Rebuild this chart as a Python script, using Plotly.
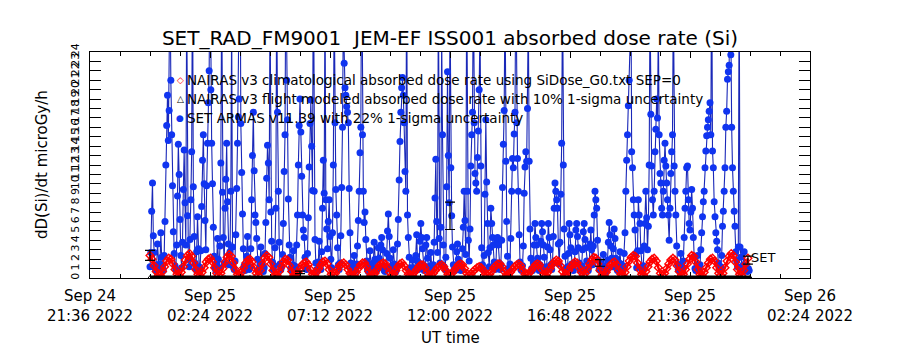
import plotly.graph_objects as go
import pandas as pd

# ---------------- data ----------------
TITLE = "SET_RAD_FM9001  JEM-EF ISS001 absorbed dose rate (Si)"
Y_TITLE = "dD(Si)/dt microGy/h"
X_TITLE = "UT time"

x_tick_times = ["2022-09-24 21:36", "2022-09-25 02:24", "2022-09-25 07:12",
                "2022-09-25 12:00", "2022-09-25 16:48", "2022-09-25 21:36",
                "2022-09-26 02:24"]
x_tick_labels = ["Sep 24<br>21:36 2022", "Sep 25<br>02:24 2022", "Sep 25<br>07:12 2022",
                 "Sep 25<br>12:00 2022", "Sep 25<br>16:48 2022", "Sep 25<br>21:36 2022",
                 "Sep 26<br>02:24 2022"]
y_tick_values = list(range(0, 25))
y_tick_labels = [str(v) for v in y_tick_values]

legend_labels = [
    "NAIRAS v3 climatological absorbed dose rate using SiDose_G0.txt SEP=0",
    "NAIRAS v3 flight modeled absorbed dose rate with 10% 1-sigma uncertainty",
    "SET ARMAS v11.39 with 22% 1-sigma uncertainty",
]

# SET ARMAS: 2-minute samples from 2022-09-25 00:00 (one row per hour)
set_start = "2022-09-25 00:00"
set_step = "2min"
set_armas = [
    1.2, 2.7, 7.1, 10.1, 4.5, 2.7, 1.1, 0.8, 1.4, 3.6, 1.2, 0.9, 1.5, 4.8, 2.2, 1.0, 0.8, 2.4, 6.0, 12.0, 16.2, 19.4, 14.6, 17.8, 32.0, 21.0, 15.2, 9.8, 4.9, 2.6,
    1.3, 0.9, 3.5, 8.7, 14.2, 11.0, 6.2, 2.4, 1.1, 3.8, 9.4, 13.6, 8.0, 3.5, 30.0, 6.6, 2.0, 1.2, 4.1, 8.3, 13.4, 34.0, 9.7, 4.4, 1.6, 0.9, 2.8, 6.5, 3.1, 1.2,
    1.0, 2.9, 7.6, 12.5, 15.2, 10.0, 6.1, 3.0, 9.8, 14.3, 18.6, 22.0, 36.0, 20.0, 14.3, 10.0, 5.4, 2.3, 1.1, 0.8, 1.6, 4.2, 2.0, 1.1, 3.4, 12.2, 30.0, 9.1, 4.3, 1.5,
    7.4, 10.5, 14.3, 8.1, 3.6, 1.4, 2.8, 9.2, 28.0, 3.3, 1.2, 0.9, 1.8, 4.6, 9.5, 14.3, 17.1, 19.0, 38.0, 16.4, 11.2, 6.8, 3.1, 1.3, 0.8, 1.0, 2.3, 4.4, 1.9, 0.9,
    1.2, 3.1, 8.3, 13.0, 17.6, 11.4, 6.7, 5.9, 4.2, 2.0, 0.9, 0.8, 1.5, 3.3, 1.4, 0.9, 0.7, 1.1, 2.6, 5.9, 10.6, 14.1, 12.2, 8.3, 29.0, 7.0, 3.9, 1.7, 0.9, 1.3,
    3.2, 7.4, 31.0, 17.6, 9.2, 3.8, 1.5, 0.9, 1.2, 2.5, 5.8, 11.3, 15.2, 33.0, 21.0, 16.8, 8.4, 3.5, 2.2, 1.0, 0.8, 1.4, 2.9, 1.3, 0.8, 1.2, 3.5, 6.7, 12.0, 16.2,
    19.0, 15.5, 10.8, 6.7, 5.1, 4.3, 2.2, 1.0, 0.9, 2.6, 6.4, 11.8, 16.4, 18.9, 14.0, 9.3, 35.0, 9.2, 4.1, 1.6, 0.9, 0.8, 1.7, 3.9, 1.6, 0.9, 2.8, 7.4, 12.5, 9.0,
    31.0, 8.3, 5.2, 3.1, 6.0, 8.3, 4.4, 2.0, 1.1, 4.8, 12.0, 30.0, 16.5, 9.4, 6.7, 3.2, 1.4, 0.9, 1.6, 4.5, 9.6, 16.0, 28.0, 22.8, 20.2, 19.4, 18.2, 17.6, 16.5, 9.5,
    4.8, 1.6, 1.0, 0.8, 1.2, 2.4, 1.1, 0.8, 1.5, 3.4, 6.1, 9.2, 13.3, 16.0, 36.0, 15.2, 9.2, 5.9, 7.0, 4.1, 1.8, 0.9, 0.7, 1.1, 2.9, 1.4, 0.8, 0.9, 1.6, 3.8,
    2.0, 1.0, 0.8, 1.9, 3.2, 2.1, 1.2, 3.5, 4.3, 3.0, 1.3, 0.8, 0.7, 1.2, 2.6, 5.0, 6.8, 4.4, 2.1, 1.0, 0.8, 1.4, 3.0, 1.5, 0.9, 0.7, 1.3, 3.6, 6.2, 10.4,
    14.5, 17.6, 20.2, 21.3, 19.4, 16.5, 11.3, 9.2, 34.0, 6.7, 4.3, 2.2, 1.1, 0.8, 1.0, 1.9, 1.1, 0.8, 0.9, 2.4, 4.6, 1.8, 0.9, 1.6, 3.9, 5.8, 4.3, 3.1, 1.4, 0.8,
    1.2, 3.5, 4.3, 2.1, 1.0, 0.8, 1.3, 2.7, 1.2, 0.8, 1.4, 3.8, 8.5, 12.6, 6.0, 2.7, 30.0, 4.2, 1.6, 5.4, 26.0, 15.2, 3.5, 1.2, 0.9, 2.2, 9.7, 21.9, 13.0, 8.0,
    29.0, 11.7, 6.6, 3.3, 1.4, 0.9, 0.8, 1.3, 2.8, 3.6, 2.0, 1.6, 0.9, 0.8, 1.2, 3.1, 5.4, 9.2, 6.1, 2.5, 32.0, 9.2, 4.0, 1.8, 5.2, 11.9, 15.2, 17.6, 31.0, 16.5,
    11.1, 10.1, 9.2, 12.8, 15.6, 20.0, 27.0, 11.9, 3.2, 1.4, 0.9, 2.4, 8.9, 16.8, 10.2, 5.8, 2.7, 1.2, 3.2, 7.4, 5.8, 4.3, 3.5, 1.7, 0.9, 1.1, 3.8, 4.3, 3.5, 1.6,
    0.9, 1.4, 4.0, 9.6, 14.2, 17.8, 30.0, 12.4, 6.0, 2.3, 1.0, 0.8, 1.5, 4.2, 9.2, 12.7, 11.7, 15.3, 17.6, 33.0, 16.5, 12.7, 9.2, 4.6, 1.7, 0.9, 0.8, 1.3, 3.4, 9.0,
    11.8, 13.4, 12.4, 18.0, 28.0, 12.4, 5.2, 2.1, 1.0, 0.8, 1.6, 3.5, 5.8, 4.3, 3.5, 2.1, 1.0, 0.8, 1.4, 3.9, 5.8, 4.9, 3.5, 2.2, 1.1, 0.8, 1.2, 3.3, 5.8, 4.3,
    3.0, 1.4, 0.9, 1.6, 4.4, 7.4, 10.1, 9.2, 8.3, 7.4, 3.6, 1.5, 3.8, 8.9, 14.3, 31.0, 12.0, 5.2, 2.3, 1.0, 0.8, 1.2, 2.6, 5.8, 4.6, 3.2, 1.5, 0.9, 0.8, 1.4,
    2.8, 5.1, 5.8, 4.4, 3.2, 1.6, 0.9, 0.8, 1.3, 3.0, 4.9, 5.8, 4.1, 3.2, 1.8, 1.0, 0.8, 1.5, 3.6, 5.1, 3.0, 1.4, 3.4, 6.7, 9.2, 8.3, 7.4, 4.0, 1.9, 0.9,
    1.6, 0.9, 0.8, 1.2, 2.5, 1.3, 0.8, 0.7, 1.0, 1.9, 3.8, 5.9, 4.6, 3.4, 2.1, 1.2, 3.1, 5.2, 4.2, 2.1, 1.0, 0.8, 0.9, 1.6, 2.8, 1.5, 0.9, 0.8, 1.3, 2.6,
    4.8, 9.2, 12.5, 15.2, 18.3, 21.0, 24.5, 34.0, 13.4, 11.7, 8.3, 6.7, 5.1, 2.6, 1.1, 2.9, 8.3, 6.7, 5.8, 2.9, 1.2, 0.8, 1.3, 3.4, 5.8, 9.2, 6.4, 3.0, 5.5, 12.0,
    29.0, 17.4, 11.9, 8.3, 6.7, 9.2, 13.4, 15.8, 19.0, 17.0, 27.0, 15.2, 11.1, 10.1, 7.4, 6.7, 9.2, 12.5, 14.3, 11.9, 10.1, 8.3, 6.7, 4.0, 7.4, 11.1, 13.4, 15.2, 30.0, 11.9,
    9.2, 6.7, 3.4, 1.5, 0.9, 0.8, 1.2, 2.6, 1.3, 0.9, 1.8, 4.3, 7.4, 9.2, 11.7, 11.9, 8.3, 5.8, 5.1, 7.0, 9.4, 7.4, 4.3, 2.2, 1.0, 0.8, 1.1, 2.4, 1.2, 0.9,
    1.4, 3.0, 4.8, 6.5, 8.1, 9.2, 11.7, 13.5, 15.1, 16.0, 16.8, 17.7, 18.6, 15.2, 35.0, 13.5, 11.7, 8.1, 6.5, 4.8, 3.9, 3.0, 1.6, 0.9, 0.8, 1.2, 2.4, 5.5, 7.1, 9.2,
    11.7, 16.0, 17.7, 21.1, 21.9, 22.6, 38.0, 23.7, 16.0, 11.7, 9.2, 7.1, 5.5, 2.8, 1.8, 1.2, 3.3, 33.0, 3.3, 2.2, 1.1, 0.8, 1.4, 2.8, 1.3, 0.9, 0.8, 0.7, 1.0, 0.8,
]

# NAIRAS climatological: 5-minute samples from 2022-09-25 00:00 (one row per hour)
clim_start = "2022-09-25 00:00"
clim_step = "5min"
nairas_clim = [
    2.4, 2.0, 1.3, 0.7, 0.3, 0.3, 0.7, 1.2, 1.8, 2.1, 2.0, 1.5,
    0.9, 0.4, 0.3, 0.6, 1.2, 1.9, 2.4, 2.6, 2.3, 1.6, 0.9, 0.4,
    0.3, 0.6, 1.1, 1.7, 2.0, 2.1, 1.7, 1.1, 0.5, 0.3, 0.5, 1.0,
    1.7, 2.2, 2.5, 2.3, 1.6, 0.9, 0.4, 0.3, 0.6, 1.1, 1.6, 1.9,
    2.0, 1.7, 1.1, 0.5, 0.3, 0.8, 1.5, 2.1, 2.4, 2.2, 1.5, 0.8,
    0.3, 0.3, 0.7, 1.2, 1.7, 2.0, 1.9, 1.3, 0.7, 0.3, 0.3, 0.6,
    1.0, 1.4, 1.6, 1.7, 1.4, 0.9, 0.4, 0.3, 0.6, 1.0, 1.4, 1.7,
    1.8, 1.5, 0.9, 0.4, 0.3, 0.5, 0.9, 1.3, 1.5, 1.6, 1.4, 0.9,
    0.5, 0.3, 0.3, 0.6, 1.0, 1.4, 1.6, 1.6, 1.2, 0.7, 0.3, 0.3,
    0.5, 0.9, 1.3, 1.5, 1.6, 1.5, 1.1, 0.6, 0.3, 0.4, 0.8, 1.2,
    1.5, 1.6, 1.3, 0.8, 0.4, 0.3, 0.3, 0.6, 0.9, 1.2, 1.4, 1.4,
    1.1, 0.6, 0.3, 0.3, 0.5, 0.8, 1.1, 1.3, 1.4, 1.2, 0.8, 0.4,
    0.3, 0.5, 0.8, 1.1, 1.4, 1.5, 1.4, 1.0, 0.5, 0.3, 0.4, 0.7,
    0.9, 1.1, 1.2, 1.1, 0.8, 0.4, 0.3, 0.4, 0.7, 1.1, 1.3, 1.5,
    1.5, 1.2, 0.7, 0.3, 0.3, 0.6, 0.9, 1.2, 1.4, 1.5, 1.3, 0.8,
    0.4, 0.3, 0.5, 0.8, 1.1, 1.4, 1.5, 1.4, 0.9, 0.4, 0.3, 0.6,
    1.0, 1.4, 1.7, 1.9, 1.8, 1.3, 0.7, 0.3, 0.4, 0.8, 1.2, 1.5,
    1.7, 1.6, 1.1, 0.6, 0.3, 0.5, 1.0, 1.5, 1.9, 2.2, 2.1, 1.5,
    0.8, 0.3, 0.3, 0.6, 1.0, 1.4, 1.6, 1.7, 1.4, 0.8, 0.4, 0.3,
    0.6, 1.2, 1.8, 2.2, 2.4, 2.3, 1.6, 0.9, 0.4, 0.3, 0.7, 1.2,
    1.7, 2.0, 2.1, 1.8, 1.1, 0.5, 0.3, 0.5, 1.0, 1.5, 1.9, 2.1,
    1.9, 1.3, 0.7, 0.3, 0.4, 0.9, 1.5, 2.0, 2.4, 2.3, 1.7, 0.9,
    0.4, 0.3, 0.6, 1.1, 1.6, 2.0, 2.1, 1.8, 1.1, 0.5, 0.3, 0.5,
    1.1, 1.8, 2.3, 2.6, 2.4, 1.7, 0.9, 0.4, 0.3, 0.8, 1.5, 2.1,
]

# NAIRAS flight modeled (hourly, 2022-09-25 00:00 .. 2022-09-26 00:00)
flight_start = "2022-09-25 00:00"
nairas_flight = [0.05, 0.06, 0.05, 0.04, 0.05, 0.06, 0.05, 0.05, 0.04, 0.05,
                 0.05, 0.06, 0.05, 0.04, 0.05, 0.05, 0.06, 0.05, 0.05, 0.04,
                 0.05, 0.06, 0.05, 0.05, 0.05]

# SET error-bar samples (22% 1-sigma)
err_times = ["2022-09-25 00:00", "2022-09-25 06:00", "2022-09-25 12:00",
             "2022-09-25 18:00", "2022-09-25 23:55"]
err_values = [2.4, 0.6, 6.6, 1.6, 1.9]
err_percent = 22

# ---------------- figure ----------------
FONT = "DejaVu Sans"
W, H = 900, 350
ML, MR, MT, MB = 90, 90, 52, 72
PW, PH = W - ML - MR, H - MT - MB


def px_x(px):
    return (px - ML) / PW


def px_y(py):
    return (H - MB - py) / PH


t_set = pd.date_range(set_start, periods=len(set_armas), freq=set_step)
t_clim = pd.date_range(clim_start, periods=len(nairas_clim), freq=clim_step)
t_flight = pd.date_range(flight_start, periods=len(nairas_flight), freq="1h")

fig = go.Figure()
fig.add_trace(go.Scatter(
    x=t_set, y=set_armas, mode="lines+markers",
    line=dict(color="#1a28b8", width=1.1),
    marker=dict(symbol="circle", size=7, color="#1034f0"),
    showlegend=False))
fig.add_trace(go.Scatter(
    x=t_clim, y=nairas_clim, mode="lines+markers",
    line=dict(color="#ff0000", width=2.5),
    marker=dict(symbol="diamond-open", size=6, color="#ff0000",
                line=dict(width=1.4, color="#ff0000")),
    showlegend=False))
fig.add_trace(go.Scatter(
    x=t_flight, y=nairas_flight, mode="lines+markers",
    line=dict(color="black", width=4),
    marker=dict(symbol="triangle-up-open", size=4, color="black"),
    showlegend=False))
fig.add_trace(go.Scatter(
    x=err_times, y=err_values, mode="markers",
    marker=dict(size=1, color="black"),
    error_y=dict(type="percent", value=err_percent, color="black",
                 thickness=1.2, width=5),
    showlegend=False))

annotations = []
leg_rows = [(80, "\u25c7", "#ff0000"), (99, "\u25b3", "black"), (118, "\u25cf", "#1034f0")]
for (py, sym, col), txt in zip(leg_rows, legend_labels):
    annotations.append(dict(x=px_x(180), y=px_y(py), xref="paper", yref="paper",
                            text=sym, showarrow=False, xanchor="center", yanchor="middle",
                            font=dict(family=FONT, size=9, color=col)))
    annotations.append(dict(x=px_x(185), y=px_y(py), xref="paper", yref="paper",
                            text=txt, showarrow=False, xanchor="left", yanchor="middle",
                            font=dict(family=FONT, size=13.5, color="black")))
annotations.append(dict(x=px_x(749), y=px_y(257), xref="paper", yref="paper",
                        text="SET", showarrow=False, xanchor="left", yanchor="middle",
                        font=dict(family=FONT, size=13, color="black")))
annotations.append(dict(x=0.5, y=px_y(338), xref="paper", yref="paper",
                        text=X_TITLE, showarrow=False, xanchor="center", yanchor="middle",
                        font=dict(family=FONT, size=15, color="black")))
annotations.append(dict(x=px_x(42), y=0.5, xref="paper", yref="paper",
                        text=Y_TITLE, showarrow=False, textangle=-90,
                        xanchor="center", yanchor="middle",
                        font=dict(family=FONT, size=15, color="black")))

fig.update_layout(
    width=W, height=H,
    margin=dict(l=ML, r=MR, t=MT, b=MB),
    paper_bgcolor="white", plot_bgcolor="white",
    title=dict(text=TITLE, x=0.5, xanchor="center", y=1 - 38 / H, yanchor="middle",
               font=dict(family=FONT, size=20, color="black")),
    showlegend=False,
    annotations=annotations,
    xaxis=dict(
        type="date",
        range=[x_tick_times[0], x_tick_times[-1]],
        tickmode="array", tickvals=x_tick_times, ticktext=x_tick_labels,
        ticks="inside", ticklen=6, tickcolor="black",
        showline=True, linecolor="black", linewidth=1, mirror="ticks",
        showgrid=False, zeroline=False,
        tickfont=dict(family=FONT, size=15, color="black"),
        ticklabelstandoff=4,
        minor=dict(ticks="inside", ticklen=4, tickcolor="black",
                   dtick=4320000, tick0=x_tick_times[0], showgrid=False),
    ),
    yaxis=dict(
        range=[0, 24],
        tickmode="array", tickvals=y_tick_values, ticktext=y_tick_labels,
        tickangle=-90,
        ticks="inside", ticklen=11, tickcolor="black",
        showline=True, linecolor="black", linewidth=1, mirror="ticks",
        showgrid=False, zeroline=False,
        tickfont=dict(family=FONT, size=11, color="black"),
        ticklabelstandoff=6,
    ),
)

fig.write_html("out.html")
